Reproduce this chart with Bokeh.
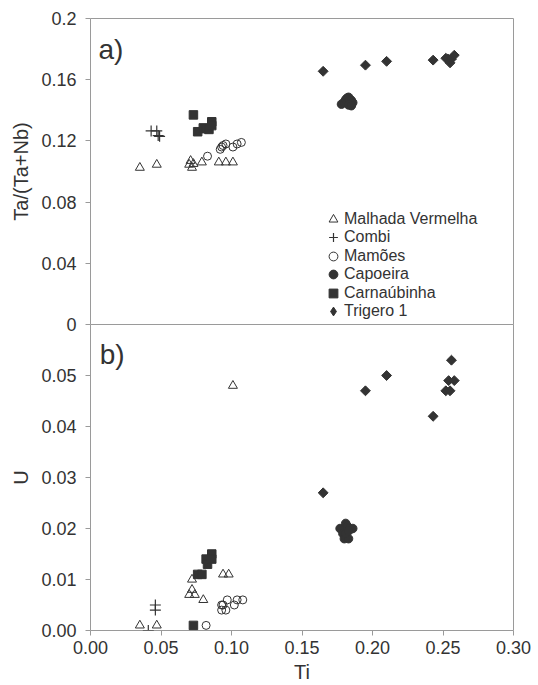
import math
from bokeh.plotting import figure
from bokeh.layouts import column
from bokeh.models import (Legend, LegendItem, Label, FixedTicker,
                          NumeralTickFormatter, Range1d)
from bokeh.embed import file_html
from bokeh.resources import INLINE

# ---------------- data: panel a) Ta/(Ta+Nb) vs Ti ----------------
mv_ti_a = [0.035, 0.047, 0.070, 0.071, 0.072, 0.073, 0.079, 0.091, 0.096, 0.101]
mv_y_a = [0.1025, 0.1045, 0.1045, 0.107, 0.1025, 0.105, 0.106, 0.106, 0.106, 0.106]
combi_ti_a = [0.043, 0.047, 0.048, 0.049]
combi_y_a = [0.1265, 0.1265, 0.1235, 0.123]
mam_ti_a = [0.083, 0.092, 0.093, 0.094, 0.096, 0.101, 0.104, 0.107]
mam_y_a = [0.110, 0.1145, 0.116, 0.117, 0.118, 0.116, 0.118, 0.119]
cap_ti_a = [0.178, 0.180, 0.181, 0.182, 0.183, 0.184, 0.185, 0.186, 0.183, 0.185]
cap_y_a = [0.144, 0.1455, 0.147, 0.148, 0.1485, 0.147, 0.1465, 0.145, 0.1435, 0.143]
car_ti_a = [0.073, 0.076, 0.080, 0.082, 0.084, 0.086, 0.086]
car_y_a = [0.137, 0.126, 0.1285, 0.128, 0.1275, 0.1325, 0.130]
tri_ti_a = [0.165, 0.195, 0.210, 0.243, 0.252, 0.2535, 0.255, 0.256, 0.258]
tri_y_a = [0.1655, 0.1695, 0.172, 0.1728, 0.174, 0.1735, 0.171, 0.1735, 0.176]

# ---------------- data: panel b) U vs Ti ----------------
mv_ti_b = [0.035, 0.047, 0.072, 0.072, 0.070, 0.074, 0.080, 0.094, 0.098, 0.101]
mv_u_b = [0.001, 0.001, 0.010, 0.008, 0.007, 0.007, 0.006, 0.011, 0.011, 0.048]
combi_ti_b = [0.041, 0.046, 0.046]
combi_u_b = [0.000, 0.005, 0.004]
mam_ti_b = [0.082, 0.093, 0.093, 0.096, 0.097, 0.094, 0.102, 0.104, 0.108]
mam_u_b = [0.001, 0.005, 0.004, 0.004, 0.006, 0.005, 0.005, 0.006, 0.006]
cap_ti_b = [0.177, 0.179, 0.181, 0.182, 0.184, 0.186, 0.180, 0.183, 0.181, 0.183]
cap_u_b = [0.020, 0.019, 0.021, 0.0205, 0.020, 0.020, 0.018, 0.018, 0.019, 0.0195]
car_ti_b = [0.073, 0.076, 0.079, 0.082, 0.083, 0.086, 0.086]
car_u_b = [0.001, 0.011, 0.011, 0.014, 0.013, 0.015, 0.014]
tri_ti_b = [0.165, 0.195, 0.210, 0.243, 0.252, 0.255, 0.254, 0.258, 0.256]
tri_u_b = [0.027, 0.047, 0.050, 0.042, 0.047, 0.047, 0.049, 0.049, 0.053]

labels = ["Malhada Vermelha", "Combi", "Mamões", "Capoeira", "Carnaúbinha", "Trigero 1"]
x_ticks = [0.0, 0.05, 0.10, 0.15, 0.20, 0.25, 0.30]
ya_ticks = [0.0, 0.04, 0.08, 0.12, 0.16, 0.2]
ya_tick_labels = ["0", "0.04", "0.08", "0.12", "0.16", "0.2"]
yb_ticks = [0.0, 0.01, 0.02, 0.03, 0.04, 0.05]

FONT = "Liberation Sans"
INK = "#333333"
FRAME = "#9a9a9a"
W = 538
OVER = 16          # overlap between the two canvases
HA = 324 + OVER    # top canvas height
HB = 685 - 324     # bottom canvas height
LEG_ROW_Y = [94.5, 76, 57.5, 39, 20.5, 2]   # legend rows, px above the panel-a frame bottom


def style(p):
    p.outline_line_color = FRAME
    p.outline_line_width = 1
    p.xgrid.visible = False
    p.ygrid.visible = False
    for ax in p.axis:
        ax.axis_line_color = None
        ax.major_tick_line_color = FRAME
        ax.major_tick_out = 5
        ax.major_tick_in = 0
        ax.minor_tick_line_color = None
        ax.major_label_text_font = FONT
        ax.major_label_text_font_size = "18px"
        ax.major_label_text_color = INK
        ax.axis_label_text_font = FONT
        ax.axis_label_text_font_size = "20px"
        ax.axis_label_text_font_style = "normal"
        ax.axis_label_text_color = INK


def add_series(p, d):
    rs = []
    rs.append(p.scatter(d[0][0], d[0][1], marker="triangle", size=9,
                        fill_color=None, line_color=INK, line_width=1))
    rs.append(p.scatter(d[1][0], d[1][1], marker="cross", size=11,
                        line_color=INK, line_width=1.2))
    rs.append(p.scatter(d[2][0], d[2][1], marker="circle", size=8,
                        fill_color=None, line_color=INK, line_width=1))
    rs.append(p.scatter(d[3][0], d[3][1], marker="circle", size=8.5,
                        fill_color=INK, line_color=INK))
    rs.append(p.scatter(d[4][0], d[4][1], marker="square", size=8.5,
                        fill_color=INK, line_color=INK))
    rs.append(p.scatter(d[5][0], d[5][1], marker="square", size=7, angle=math.pi / 4,
                        fill_color=INK, line_color=INK))
    return rs


# ---------------- top panel ----------------
pa = figure(width=W, height=HA, output_backend="svg", toolbar_location=None,
            x_range=Range1d(0, 0.30), y_range=Range1d(0, 0.2),
            x_axis_location=None,
            min_border_top=18, min_border_bottom=OVER, min_border_left=90,
            min_border_right=25)
rs = add_series(pa, [(mv_ti_a, mv_y_a), (combi_ti_a, combi_y_a), (mam_ti_a, mam_y_a),
                     (cap_ti_a, cap_y_a), (car_ti_a, car_y_a), (tri_ti_a, tri_y_a)])
# hidden diamond copy of Trigero 1, used only for its legend swatch
leg_diamond = pa.scatter(tri_ti_a, tri_y_a, marker="diamond", size=12,
                         fill_color=INK, line_color=INK, visible=False)
pa.yaxis.ticker = FixedTicker(ticks=ya_ticks)
pa.yaxis.major_label_overrides = {t: s for t, s in zip(ya_ticks, ya_tick_labels)}
pa.yaxis.axis_label = "Ta/(Ta+Nb)"
style(pa)
pa.yaxis.major_label_standoff = 9
pa.yaxis.axis_label_standoff = 6
pa.add_layout(Label(x=0.0057, y=0.190, text="a)", text_font=FONT, text_font_size="28px",
                    text_color=INK, text_baseline="top"))

leg_renderers = rs[:5] + [leg_diamond]
for lab, r, ly in zip(labels, leg_renderers, LEG_ROW_Y):
    lg = Legend(items=[LegendItem(label=lab, renderers=[r])],
                location=(232, ly), padding=0, margin=0, spacing=0,
                glyph_width=22, glyph_height=22, label_height=16, label_standoff=0,
                label_text_font=FONT, label_text_font_size="16px",
                label_text_color=INK, border_line_color=None,
                background_fill_alpha=0)
    pa.add_layout(lg)

# ---------------- bottom panel ----------------
pb = figure(width=W, height=HB, output_backend="svg", toolbar_location=None,
            x_range=Range1d(0, 0.30), y_range=Range1d(0, 0.06),
            min_border_top=0, min_border_bottom=54, min_border_left=90,
            min_border_right=25)
pb.border_fill_color = None
add_series(pb, [(mv_ti_b, mv_u_b), (combi_ti_b, combi_u_b), (mam_ti_b, mam_u_b),
                (cap_ti_b, cap_u_b), (car_ti_b, car_u_b), (tri_ti_b, tri_u_b)])
pb.xaxis.ticker = FixedTicker(ticks=x_ticks)
pb.xaxis.formatter = NumeralTickFormatter(format="0.00")
pb.yaxis.ticker = FixedTicker(ticks=yb_ticks)
pb.yaxis.formatter = NumeralTickFormatter(format="0.00")
pb.xaxis.axis_label = "Ti"
pb.yaxis.axis_label = "U"
style(pb)
pb.xaxis.major_label_standoff = 5
pb.xaxis.axis_label_standoff = 4
pb.yaxis.major_label_standoff = 9
pb.yaxis.axis_label_standoff = 6
pb.add_layout(Label(x=0.0065, y=0.0572, text="b)", text_font=FONT, text_font_size="28px",
                    text_color=INK, text_baseline="top"))
pb.styles = {"margin-top": f"-{OVER}px"}

layout = column(pa, pb, spacing=0)
open("out.html", "w").write(file_html(layout, INLINE))
